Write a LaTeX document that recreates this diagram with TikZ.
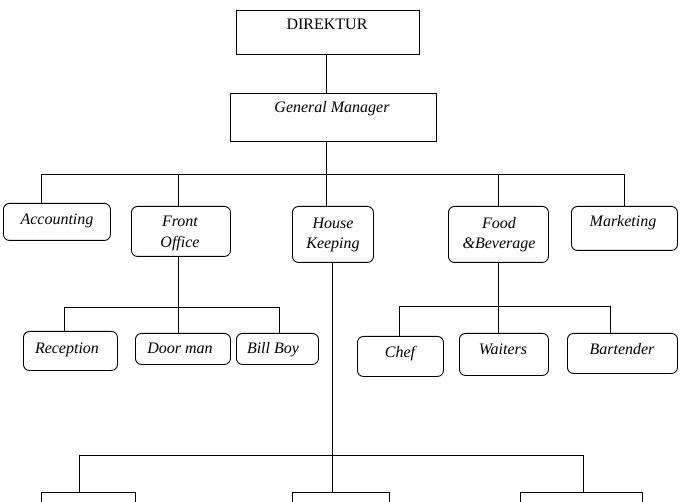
\documentclass[tikz,border=0pt]{standalone}
\usepackage{fontspec}
\setmainfont{Liberation Serif}
\begin{document}
\begin{tikzpicture}[x=1pt,y=-1pt,
  sqbox/.style={draw, line width=0.9pt, inner sep=0pt, anchor=north west},
  rndbox/.style={sqbox, rounded corners=6pt},
  lbl/.style={font=\fontsize{16}{18}\selectfont\itshape, anchor=base, inner sep=0pt},
  conn/.style={line width=0.85pt}]
\useasboundingbox (0,0) rectangle (685,502);
\clip (0,0) rectangle (685,502);
\newcommand{\boxat}[6]{\node[#2, minimum width=#5pt-#3pt, minimum height=#6pt-#4pt] (#1) at (#3,#4) {};}
% boxes
\boxat{dir}{sqbox}{236}{10}{419}{54}
\boxat{gm}{sqbox}{230}{93}{436}{141}
\boxat{acc}{rndbox}{3}{203}{110}{240}
\boxat{fo}{rndbox}{131}{206}{230}{256}
\boxat{hk}{rndbox}{292}{206}{373}{262}
\boxat{fb}{rndbox}{448}{206}{548}{262}
\boxat{mk}{rndbox}{571}{206}{677}{250}
\boxat{rec}{rndbox}{23}{331}{117}{370}
\boxat{door}{rndbox}{135}{333}{230}{364}
\boxat{bill}{rndbox}{236}{333}{318}{364}
\boxat{chef}{rndbox}{357}{336}{443}{376}
\boxat{wait}{rndbox}{459}{333}{548}{375}
\boxat{bar}{rndbox}{567}{333}{677}{373}
\boxat{bl}{sqbox}{41}{492}{135}{530}
\boxat{bm}{sqbox}{292}{492}{389}{530}
\boxat{br}{sqbox}{520}{492}{642}{530}
% labels
\node[lbl] (tdir) at (327,30) {\upshape DIREKTUR};
\node[lbl] (tgm) at (332,113) {General Manager};
\node[lbl] (tacc) at (57,225) {Accounting};
\node[lbl] (tfo1) at (180,227) {Front};
\node[lbl] (tfo2) at (180,248) {Office};
\node[lbl] (thk1) at (333,229) {House};
\node[lbl] (thk2) at (333,249) {Keeping};
\node[lbl] (tfb1) at (499,229) {Food};
\node[lbl] (tfb2) at (499,249) {\&Beverage};
\node[lbl] (tmk) at (623,227) {Marketing};
\node[lbl] (trec) at (67,353) {Reception};
\node[lbl] (tdoor) at (180,353) {Door man};
\node[lbl] (tbill) at (273,353) {Bill Boy};
\node[lbl] (tchef) at (400,357) {Chef};
\node[lbl] (twait) at (503,355) {Waiters};
\node[lbl] (tbar) at (622,355) {Bartender};
% connectors
\coordinate (gmd) at ([xshift=-7pt]gm.south);
\coordinate (bus1) at (0,174);
\draw[conn] (dir.south -| gmd) -- (gm.north -| gmd);
\draw[conn] (gmd) -- (bus1 -| gmd);
\coordinate (accd) at ([xshift=-15.5pt]acc.north);
\draw[conn] (accd) -- (bus1 -| accd) -- (bus1 -| mk.north) -- (mk.north);
\coordinate (fod) at ([xshift=-2.5pt]fo.south);
\draw[conn] (bus1 -| fod) -- (fo.north -| fod);
\draw[conn] (gmd) -- (hk.north -| gmd);
\draw[conn] (fb.north |- bus1) -- (fb.north);
% front office
\coordinate (bus2) at (0,307);
\coordinate (recd) at ([xshift=-6pt]rec.north);
\coordinate (billd) at ([xshift=2pt]bill.north);
\draw[conn] (fod) -- (door.north -| fod);
\draw[conn] (recd) -- (bus2 -| recd) -- (bus2 -| billd) -- (billd);
% food and beverage
\coordinate (bus3) at (0,306);
\coordinate (chefd) at ([xshift=-1pt]chef.north);
\coordinate (bard) at ([xshift=-12pt]bar.north);
\draw[conn] (fb.south) -- (wait.north -| fb.south);
\draw[conn] (chefd) -- (bus3 -| chefd) -- (bus3 -| bard) -- (bard);
% house keeping
\coordinate (bus4) at (0,455);
\coordinate (hkd) at ([xshift=-0.5pt]hk.south);
\coordinate (bld) at ([xshift=-9pt]bl.north);
\coordinate (brd) at ([xshift=2pt]br.north);
\draw[conn] (hkd) -- (bm.north -| hkd);
\draw[conn] (bld) -- (bus4 -| bld) -- (bus4 -| brd) -- (brd);
\end{tikzpicture}
\end{document}
